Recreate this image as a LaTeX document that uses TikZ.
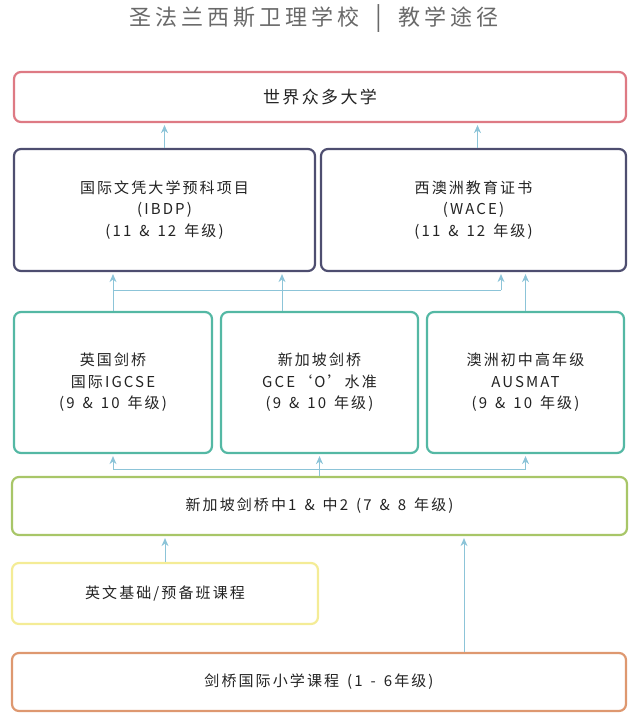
\documentclass[tikz,border=0pt]{standalone}
\usepackage{fontspec}
\setmainfont{Noto Sans CJK SC}[LetterSpace=14]
\newfontfamily\titlefont{Noto Sans CJK SC}[LetterSpace=18]
\usetikzlibrary{arrows.meta}
\definecolor{cuni}{RGB}{222,122,132}
\definecolor{cdark}{RGB}{78,78,112}
\definecolor{cteal}{RGB}{84,184,164}
\definecolor{cgreen}{RGB}{168,198,104}
\definecolor{cyellow}{RGB}{244,236,150}
\definecolor{corange}{RGB}{222,152,112}
\definecolor{carrow}{RGB}{140,196,216}
\definecolor{ctext}{RGB}{35,35,35}
\definecolor{ctitle}{RGB}{105,105,105}
\newcommand{\gsp}{\hspace{8pt}}
\tikzset{
  boxstyle/.style={draw, rounded corners=7pt, line width=2.2pt, align=center,
    text=ctext, font=\fontsize{15}{21.5}\selectfont, inner sep=0pt, fill=white},
  arr/.style={draw=carrow, line width=0.9pt, -{Stealth[length=8pt,width=7pt]}, shorten >=2pt},
  ln/.style={draw=carrow, line width=0.9pt},
}
\begin{document}
\begin{tikzpicture}[x=1pt,y=-1pt]
\useasboundingbox (0,0) rectangle (638,723);
\node[text=ctitle, font=\titlefont\fontsize{22}{24}\selectfont] (title) at (314,19) {圣法兰西斯卫理学校\hspace{16pt}{\fontsize{25}{25}\selectfont|}\hspace{16pt}教学途径};
% boxes
\node[boxstyle, draw=cuni, minimum width=612pt, minimum height=50pt, font=\fontsize{17}{20}\selectfont] (uni) at (320,97) {世界众多大学};
\node[boxstyle, draw=cdark, minimum width=301pt, minimum height=122pt] (ibdp) at (164.5,210) {国际文凭大学预科项目\\(IBDP)\\(11\gsp{}\&\gsp{}12\gsp{}年级)};
\node[boxstyle, draw=cdark, minimum width=305pt, minimum height=122pt] (wace) at (473.5,210) {西澳洲教育证书\\(WACE)\\(11\gsp{}\&\gsp{}12\gsp{}年级)};
\node[boxstyle, draw=cteal, minimum width=198pt, minimum height=141pt] (igcse) at (113,382.5) {英国剑桥\\国际IGCSE\\(9\gsp{}\&\gsp{}10\gsp{}年级)};
\node[boxstyle, draw=cteal, minimum width=197pt, minimum height=141pt] (gce) at (319.5,382.5) {新加坡剑桥\\GCE‘O’水准\\(9\gsp{}\&\gsp{}10\gsp{}年级)};
\node[boxstyle, draw=cteal, minimum width=197pt, minimum height=141pt] (ausmat) at (525.5,382.5) {澳洲初中高年级\\AUSMAT\\(9\gsp{}\&\gsp{}10\gsp{}年级)};
\node[boxstyle, draw=cgreen, minimum width=615pt, minimum height=58pt] (sec) at (319.5,506) {新加坡剑桥中1\gsp{}\&\gsp{}中2\gsp{}(7\gsp{}\&\gsp{}8\gsp{}年级)};
\node[boxstyle, draw=cyellow, minimum width=306pt, minimum height=61pt] (prep) at (165,593.5) {英文基础/预备班课程};
\node[boxstyle, draw=corange, minimum width=614pt, minimum height=58pt] (pri) at (319,682) {剑桥国际小学课程\gsp{}(1\gsp{}-\gsp{}6年级)};
% connectors top
\draw[arr] (ibdp.north) -- (ibdp.north |- uni.south);
\draw[arr] ([xshift=4pt]wace.north) -- ([xshift=4pt]wace.north |- uni.south);
% middle to upper
\coordinate (hj) at (501,290);
\draw[arr] (igcse.north) -- (igcse.north |- ibdp.south);
\draw[ln] (igcse.north |- hj) -- (hj);
\draw[arr] (hj) -- (hj |- wace.south);
\draw[arr] ([xshift=-37.5pt]gce.north) -- ([xshift=-37.5pt]gce.north |- ibdp.south);
\draw[arr] (ausmat.north) -- (ausmat.north |- wace.south);
% sec to middle
\coordinate (lj) at (113,469);
\coordinate (rj) at (525.5,469);
\draw[ln] (gce.south |- sec.north) -- (gce.south |- lj);
\draw[ln] (lj) -- (rj);
\draw[arr] (lj) -- (igcse.south);
\draw[arr] (gce.south |- lj) -- (gce.south);
\draw[arr] (rj) -- (ausmat.south);
% lower to sec
\draw[arr] (prep.north) -- (prep.north |- sec.south);
\draw[arr] ([xshift=145pt]pri.north) -- ([xshift=145pt]pri.north |- sec.south);
\end{tikzpicture}
\end{document}
